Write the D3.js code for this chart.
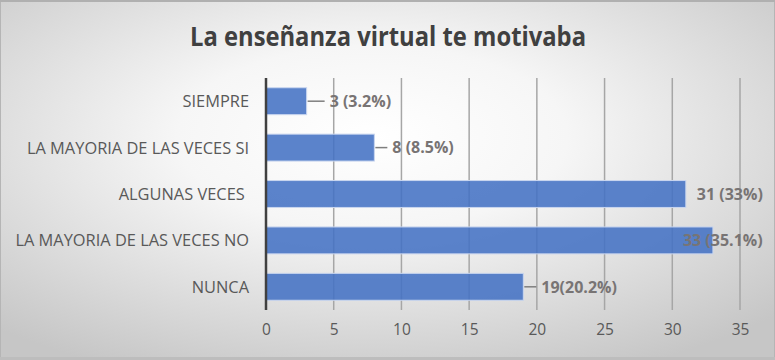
<!DOCTYPE html>
<html><head><meta charset="utf-8">
<script src="https://cdn.jsdelivr.net/npm/d3@7"></script>
<style>
html,body{margin:0;padding:0;background:#fff;}
svg{display:block;}
</style></head>
<body>
<svg id="chart" width="775" height="360"></svg>
<script>
const title = "La enseñanza virtual te motivaba";
const categories = ["SIEMPRE", "LA MAYORIA DE LAS VECES SI", "ALGUNAS VECES ", "LA MAYORIA DE LAS VECES NO", "NUNCA"];
const values = [3, 8, 31, 33, 19];
const valueLabels = ["3 (3.2%)", "8 (8.5%)", "31 (33%)", "33 (35.1%)", "19(20.2%)"];
const tickValues = [0, 5, 10, 15, 20, 25, 30, 35];

const W = 775, H = 360;
const margin = {left: 266, right: 35, top: 78, bottom: 50};
const svg = d3.select("#chart");
const defs = svg.append("defs");
const rg = defs.append("radialGradient").attr("id", "bg").attr("cx", "48%").attr("cy", "38%").attr("r", "72%");
rg.append("stop").attr("offset", "0%").attr("stop-color", "#ffffff");
rg.append("stop").attr("offset", "35%").attr("stop-color", "#f6f6f6");
rg.append("stop").attr("offset", "100%").attr("stop-color", "#c6c6c6");
svg.append("rect").attr("width", W).attr("height", H).attr("fill", "url(#bg)");
svg.append("rect").attr("x", 0.5).attr("y", 0.5).attr("width", W - 1).attr("height", H - 1)
  .attr("fill", "none").attr("stroke", "#b5b5b5").attr("stroke-width", 1);
svg.append("rect").attr("x", 0).attr("y", 0).attr("width", W).attr("height", 2).attr("fill", "#b0b0b0");
svg.append("rect").attr("x", 0).attr("y", H - 3).attr("width", W).attr("height", 3).attr("fill", "#bdbdbd");

const x = d3.scaleLinear().domain([0, 35]).range([margin.left, 740]);
const y = d3.scaleBand().domain(categories).range([margin.top, 310]).paddingInner(0.42).paddingOuter(0.21);

// title
svg.append("text").attr("x", 388).attr("y", 46).attr("text-anchor", "middle")
  .attr("font-family", "'Liberation Sans Narrow', 'Open Sans', sans-serif").attr("font-weight", "bold")
  .attr("font-size", 26).attr("fill", "#404040")
  .attr("textLength", 396).attr("lengthAdjust", "spacingAndGlyphs")
  .text(title);

// gridlines
svg.append("g").selectAll("line").data(tickValues.slice(1)).join("line")
  .attr("x1", d => x(d)).attr("x2", d => x(d)).attr("y1", margin.top).attr("y2", 310)
  .attr("stroke", "#a6a6a6").attr("stroke-width", 1.5);

// bars
svg.append("g").selectAll("rect").data(values).join("rect")
  .attr("x", x(0)).attr("y", (d, i) => y(categories[i]))
  .attr("width", d => x(d) - x(0)).attr("height", y.bandwidth())
  .attr("fill", "#4472c4").attr("fill-opacity", 0.88)
  .attr("stroke", "#c9d6ef").attr("stroke-width", 1);

// axis line
svg.append("line").attr("x1", x(0)).attr("x2", x(0)).attr("y1", margin.top).attr("y2", 310)
  .attr("stroke", "#404040").attr("stroke-width", 2.5);

// category labels
svg.append("g").selectAll("text").data(categories).join("text")
  .attr("x", 249).attr("y", d => y(d) + y.bandwidth() / 2)
  .attr("dy", "0.36em").attr("text-anchor", "end")
  .attr("font-family", "'Liberation Sans Narrow', 'Open Sans', sans-serif")
  .attr("font-size", 16.4).attr("fill", "#595959")
  .style("white-space", "pre")
  .text(d => d);

// x axis ticks via d3 axis
const axis = d3.axisBottom(x).tickValues(tickValues).tickSize(0).tickPadding(14);
const ag = svg.append("g").attr("transform", "translate(0,310)").call(axis);
ag.select(".domain").remove();
ag.selectAll("text").attr("font-family", "'Liberation Sans Narrow', 'Open Sans', sans-serif")
  .attr("font-size", 15.5).attr("fill", "#595959");

// data labels with leader lines
const lg = svg.append("g");
values.forEach((v, i) => {
  const cy = y(categories[i]) + y.bandwidth() / 2;
  let lx;
  if (i === 0 || i === 1 || i === 4) {
    const len = i === 0 ? 18 : 13;
    lg.append("line").attr("x1", x(v) + 1).attr("x2", x(v) + len).attr("y1", cy).attr("y2", cy)
      .attr("stroke", "#7f7f7f").attr("stroke-width", 1.5);
    lx = x(v) + len + 5;
  } else if (i === 2) {
    lx = x(v) + 11;
  } else {
    lx = x(v) - 30;
  }
  lg.append("text").attr("x", lx).attr("y", cy).attr("dy", "0.36em")
    .attr("font-family", "'Liberation Sans Narrow', 'Open Sans', sans-serif").attr("font-weight", "bold")
    .attr("font-size", 16).attr("fill", "#787474")
    .text(valueLabels[i]);
});
</script>
</body></html>
